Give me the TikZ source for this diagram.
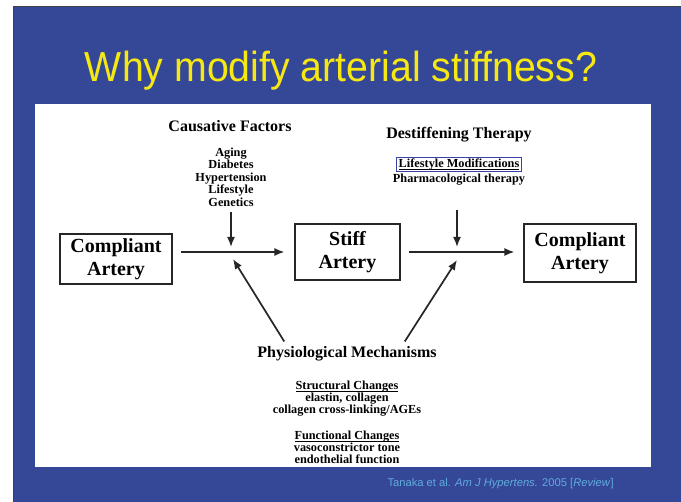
\documentclass[tikz,border=0pt]{standalone}
\usepackage{amsmath}
\usepackage{fontspec}
\setmainfont{Liberation Serif}
\newfontfamily\slidefont{Liberation Sans}
\usetikzlibrary{arrows.meta,positioning}
\definecolor{slideblue}{RGB}{53,71,151}
\definecolor{titleyellow}{RGB}{246,232,18}
\definecolor{citeblue}{RGB}{96,172,222}
\definecolor{boxblue}{RGB}{58,66,168}
\newcommand{\ulhead}[1]{\underline{\smash[b]{#1}}}

\begin{document}
\begin{tikzpicture}[x=1pt, y=-1pt, >={Latex[length=10pt,width=8pt]},
	artery/.style={draw=black!85, line width=1.1pt, align=center, inner sep=0pt,
		font=\fontsize{20}{23}\selectfont\bfseries},
	head/.style={font=\fontsize{16}{18}\selectfont\bfseries, inner sep=0pt},
	small/.style={align=center, inner sep=0pt,
		font=\fontsize{12.3}{12.3}\selectfont\bfseries\setlength{\lineskiplimit}{-10pt}},
	flow/.style={->, line width=1.7pt, black!85}]
\useasboundingbox (0,0) rectangle (681,502);
% slide background
\fill[white] (0,0) rectangle (681,502);
\fill[slideblue] (13,7) rectangle (681,502);
\draw[black!75, line width=1pt] (13,502) -- (13,6.5) -- (681,6.5);
\fill[white] (35,104) rectangle (651,467);
\node (title) [text=titleyellow, font=\slidefont\fontsize{42}{44}\selectfont] at (341,71) {\scalebox{0.935}[1]{Why modify arterial stiffness?}};

% the three arteries
\node (cl) [artery, minimum width=112pt, minimum height=50pt] at (116,259) {Compliant\\Artery};
\node (stiff) [artery, minimum width=105pt, minimum height=56pt] at (347.5,252) {Stiff\\Artery};
\node (cr) [artery, minimum width=112pt, minimum height=58pt] at (580,253) {Compliant\\Artery};

% causative factors
\node (cause) [head] at (230,126) {Causative Factors};
\node (causes) [small, font=\fontsize{12.3}{12.5}\selectfont\bfseries] at (231,177) {Aging\\Diabetes\\Hypertension\\Lifestyle\\Genetics};

% destiffening therapy
\node (therapy) [head] at (459,135) {Destiffening Therapy};
\node (lifemod) [small, draw=boxblue, line width=1.1pt, inner xsep=2.5pt, inner ysep=1.5pt] at (459,164.5) {\ulhead{Lifestyle Modifications}};
\node (pharma) [small] at (459,180) {Pharmacological therapy};

% physiological mechanisms
\node (mech) [head] at (347,354) {Physiological Mechanisms};
\node (struct) [small] at (347,398.5) {\ulhead{Structural Changes}\\elastin, collagen\\collagen cross-linking/AGEs};
\node (func) [small] at (347,447.5) {\ulhead{Functional Changes}\\vasoconstrictor tone\\endothelial function};

\coordinate (c1in) at (231,247);
\coordinate (m1in) at (233,259);
\coordinate (c2top) at (457,210);
\coordinate (c2in) at (457,247);
\coordinate (m2in) at (457,260);

\path[flow]
(cl.east |- stiff.west) edge [shorten <=8pt, shorten >=10pt] (stiff.west)
(stiff.east) edge [shorten <=8pt, shorten >=9pt] (cr.west |- stiff.east)
(causes.south) edge [shorten <=5pt] (c1in)
(c2top) edge (c2in)
([xshift=27pt,yshift=5pt]mech.north west) edge (m1in)
([xshift=-32pt,yshift=5pt]mech.north east) edge (m2in)
;

\node (cite) [text=citeblue, font=\slidefont\fontsize{11.2}{13}\selectfont, anchor=west] at (384,484) {Tanaka et al. \textit{Am J Hypertens.} 2005 [\textit{Review}]};
\end{tikzpicture}
\end{document}
